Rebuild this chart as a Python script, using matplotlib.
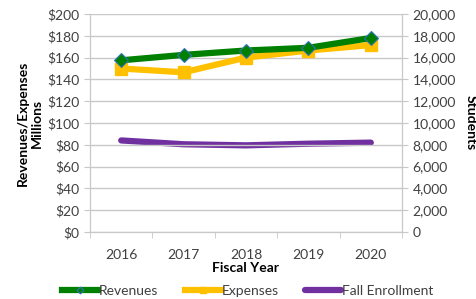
import numpy as np
import matplotlib.pyplot as plt
from matplotlib.ticker import FuncFormatter

plt.rcParams['font.family'] = ['Lato', 'DejaVu Sans']

years = ['2016', '2017', '2018', '2019', '2020']
revenues = [157.5, 162.5, 166.5, 169.0, 178.0]
expenses = [150.0, 146.5, 160.0, 166.5, 171.5]
enrollment = [8400, 8050, 7950, 8100, 8200]

grid_c = '#c8c8c8'
text_c = '#404040'
fs = 10

fig = plt.figure(figsize=(4.76, 2.99), dpi=100)
ax = fig.add_axes([90 / 476, 1 - 232 / 299, 312 / 476, 218 / 299])
ax2 = ax.twinx()

x = np.arange(len(years))
ax2.plot(x, enrollment, color='#7030A0', lw=4.5, solid_capstyle='round',
         label='Fall Enrollment', zorder=2)
ax.plot(x, expenses, color='#FFC000', lw=4.5, marker='s', ms=8,
        mfc='#FFC000', mec='#FFC000', label='Expenses', zorder=3)
ax.plot(x, revenues, color='#008000', lw=4.5, marker='D', ms=7,
        mfc='#008000', mec='#2E75B6', mew=0.8, label='Revenues', zorder=4)

ax.set_zorder(ax2.get_zorder() + 1)
ax.patch.set_visible(False)

ax.set_xlim(-0.5, 4.5)
ax.set_ylim(0, 200)
ax.set_yticks(np.arange(0, 201, 20))
ax.yaxis.set_major_formatter(FuncFormatter(lambda v, p: f'${v:.0f}'))
ax2.set_ylim(0, 20000)
ax2.set_yticks(np.arange(0, 20001, 2000))
ax2.yaxis.set_major_formatter(FuncFormatter(lambda v, p: f'{v:,.0f}'))

ax.set_xticks(x)
ax.set_xticklabels(years)
ax.set_xticks(np.arange(-0.5, 4.6, 1), minor=True)
ax.tick_params(axis='x', which='major', length=0, pad=12)
ax.tick_params(axis='x', which='minor', length=4, color=grid_c, direction='out')
ax.tick_params(axis='y', length=4, color=grid_c, labelsize=fs, labelcolor=text_c)
ax2.tick_params(axis='y', length=4, color=grid_c, labelsize=fs, labelcolor=text_c)
ax.tick_params(axis='x', labelsize=fs, labelcolor=text_c)

ax.grid(axis='y', color=grid_c, lw=1)
ax.set_axisbelow(True)
for a in (ax, ax2):
    a.spines['top'].set_visible(False)
    for s in ('left', 'right', 'bottom'):
        a.spines[s].set_color(grid_c)

ax.set_ylabel('Revenues/Expenses\nMillions', fontsize=fs, fontweight='bold',
              linespacing=1.25, labelpad=3)
ax2.set_ylabel('Students', fontsize=fs, fontweight='bold', rotation=270,
               labelpad=15)
ax.set_xlabel('Fiscal Year', fontsize=fs, fontweight='bold', labelpad=1)

handles = [ax.get_lines()[1], ax.get_lines()[0], ax2.get_lines()[0]]
fig.legend(handles, [h.get_label() for h in handles], loc='lower center',
           bbox_to_anchor=(0.52, -0.035), ncol=3, frameon=False, fontsize=fs,
           handlelength=2.6, handletextpad=0.05, columnspacing=1.9,
           markerscale=0.5, labelcolor=text_c)

fig.savefig('out.png', dpi=100)
